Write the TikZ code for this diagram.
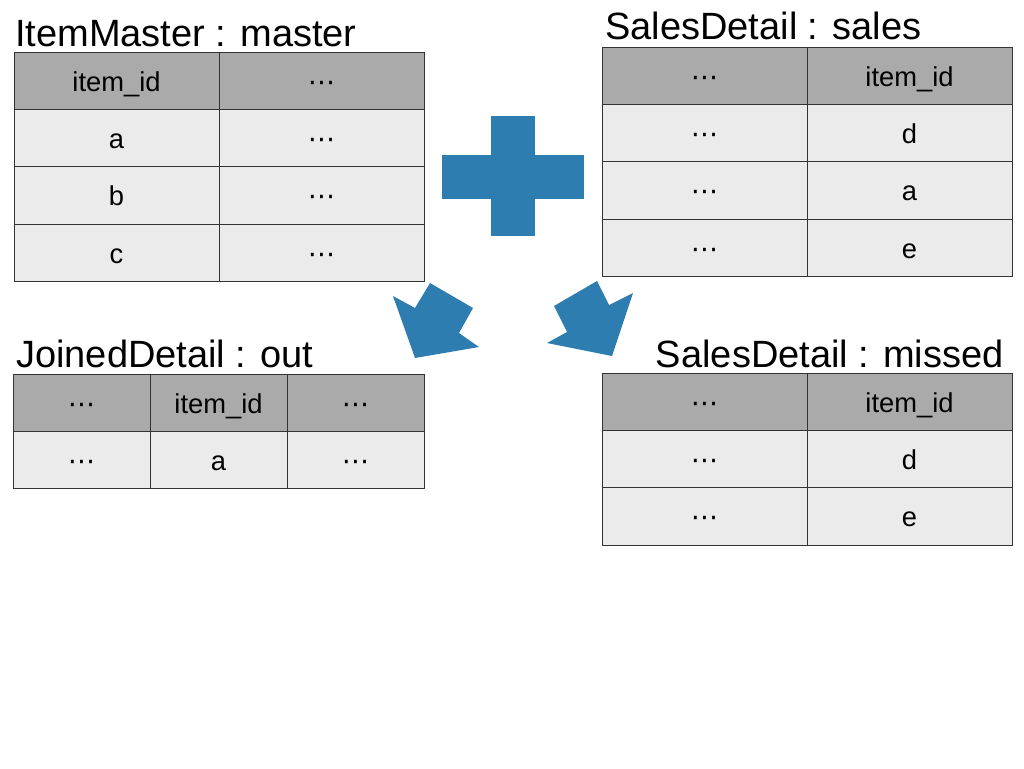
\documentclass[tikz,border=0pt]{standalone}
\usepackage{fontspec}
\setmainfont{Liberation Sans}
\newfontfamily\dotsfont{DejaVu Sans}
\usepackage{tikz}
\usetikzlibrary{positioning}
\definecolor{headgray}{RGB}{170,170,170}
\definecolor{bodygray}{RGB}{235,235,235}
\definecolor{plusblue}{RGB}{46,125,176}
\newcommand{\midots}{{\dotsfont ⋯}}

\begin{document}
\begin{tikzpicture}[x=0.75pt,y=-0.75pt,node distance=0pt]
	
	\tikzstyle{cell}=[draw=black!80,line width=0.75pt,outer sep=0pt,inner sep=0pt,minimum height=43pt,minimum width=153.75pt,text height=19.75pt,text depth=4pt,font=\fontsize{20.5}{24}\selectfont]
	\tikzstyle{head}=[cell,fill=headgray]
	\tikzstyle{body}=[cell,fill=bodygray]
	\tikzstyle{narrow}=[minimum width=102.75pt]
	\tikzstyle{title}=[inner sep=0pt,font=\fontsize{28.5}{34}\selectfont]
	
	\useasboundingbox (0,0) rectangle (1024,768);
	
	\node[title,anchor=base west] (mastertitle) at (15,46) {ItemMaster : master};
	\node[head,anchor=north west] (m11) at (14,52) {item\_id};
	\node[head,right=of m11] (m12) {\midots};
	\node[body,below=of m11] (m21) {a};
	\node[body,below=of m12] (m22) {\midots};
	\node[body,below=of m21] (m31) {b};
	\node[body,below=of m22] (m32) {\midots};
	\node[body,below=of m31] (m41) {c};
	\node[body,below=of m32] (m42) {\midots};
	
	\node[title,anchor=base west] (salestitle) at (605,39) {SalesDetail : sales};
	\node[head,anchor=north west] (s11) at (602,47) {\midots};
	\node[head,right=of s11] (s12) {item\_id};
	\node[body,below=of s11] (s21) {\midots};
	\node[body,below=of s12] (s22) {d};
	\node[body,below=of s21] (s31) {\midots};
	\node[body,below=of s22] (s32) {a};
	\node[body,below=of s31] (s41) {\midots};
	\node[body,below=of s32] (s42) {e};
	
	\node[title,anchor=base west] (outtitle) at (16,367) {JoinedDetail : out};
	\node[head,narrow,anchor=north west] (o11) at (13,374) {\midots};
	\node[head,narrow,right=of o11] (o12) {item\_id};
	\node[head,narrow,right=of o12] (o13) {\midots};
	\node[body,narrow,below=of o11] (o21) {\midots};
	\node[body,narrow,below=of o12] (o22) {a};
	\node[body,narrow,below=of o13] (o23) {\midots};
	
	\node[title,anchor=base east] (missedtitle) at (1004,367) {SalesDetail : missed};
	\node[head,anchor=north west] (x11) at (602,373) {\midots};
	\node[head,right=of x11] (x12) {item\_id};
	\node[body,below=of x11] (x21) {\midots};
	\node[body,below=of x12] (x22) {d};
	\node[body,below=of x21] (x31) {\midots};
	\node[body,below=of x22] (x32) {e};
	
	\fill[plusblue] (442,155) rectangle (584,199);
	\fill[plusblue] (491,116) rectangle (535,236);
	
	\fill[plusblue] (393,296) -- (415,308) -- (430,283) -- (473,308) -- (459,333) -- (479,347) -- (415,358) -- cycle;
	\fill[plusblue] (597,281) -- (609,305) -- (633,293) -- (612,356) -- (547,343) -- (567,332) -- (554,306) -- cycle;
	\end{tikzpicture}
\end{document}
